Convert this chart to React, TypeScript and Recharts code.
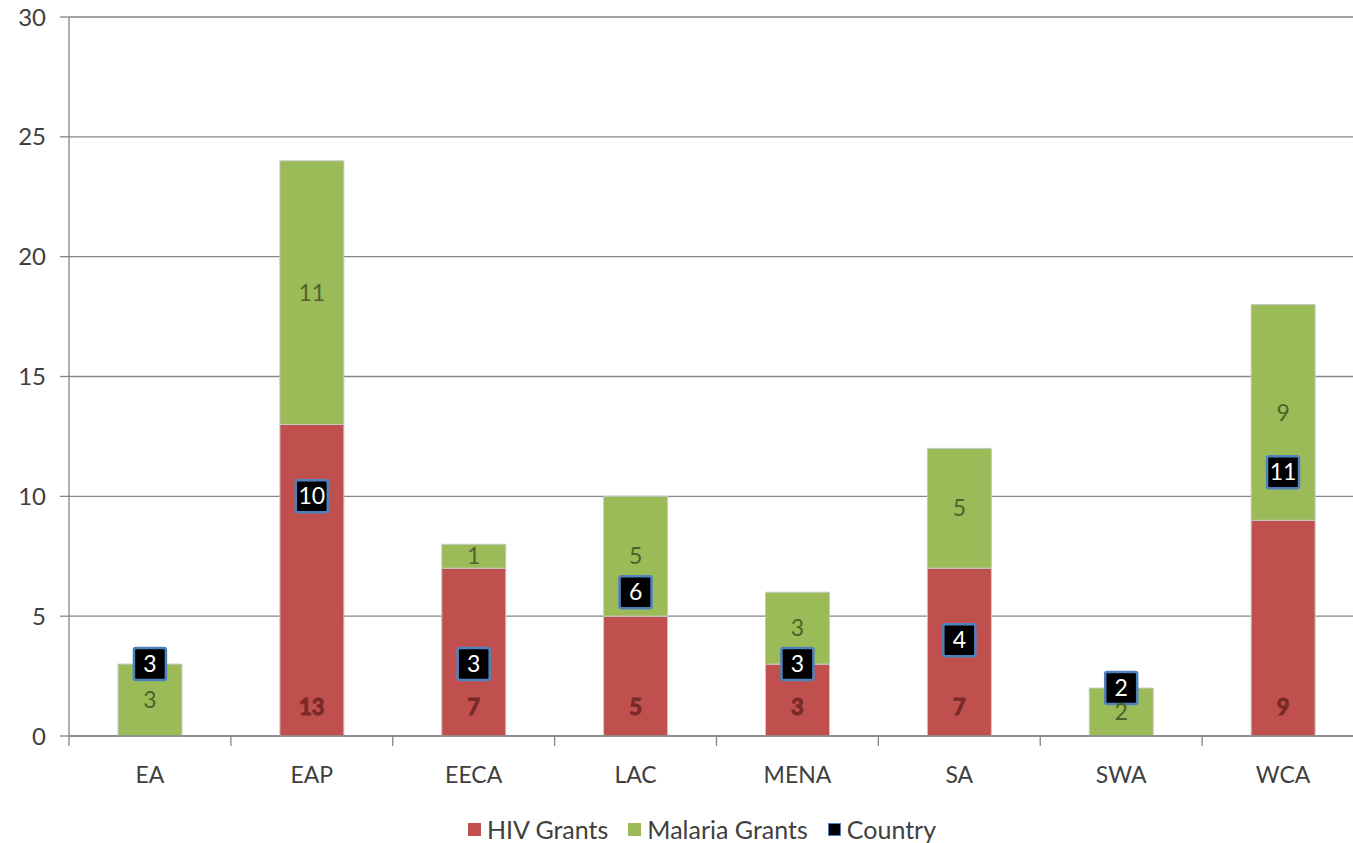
import React from "react";
import { Bar, CartesianGrid, ComposedChart, LabelList, Line, XAxis, YAxis } from "recharts";

const regions = ["EA", "EAP", "EECA", "LAC", "MENA", "SA", "SWA", "WCA"];
const hivGrants = [0, 13, 7, 5, 3, 7, 0, 9];
const malariaGrants = [3, 11, 1, 5, 3, 5, 2, 9];
const countries = [3, 10, 3, 6, 3, 4, 2, 11];
const yTicks = [0, 5, 10, 15, 20, 25, 30];

const data = regions.map((r, i) => ({
    region: r,
    hiv: hivGrants[i],
    malaria: malariaGrants[i],
    country: countries[i],
}));

const FONT = "Lato, 'Open Sans', sans-serif";
const AXIS = "#868686";
const RED = "#c0504d";
const GREEN = "#9bbb59";

const hideZero = (v: any) => (v === 0 ? "" : v);

// category label plus the Excel-style tick mark on the boundary between categories
const RegionTick = (props: any) => {
    const { x, y, payload, width, visibleTicksCount, index } = props;
    const band = width / visibleTicksCount;
    const axisY = y - 10;
    return (
        <g>
            <line x1={x + band / 2} x2={x + band / 2} y1={axisY} y2={axisY + 10} stroke={AXIS} strokeWidth={1.3} />
            {index === 0 && <line x1={x - band / 2} x2={x - band / 2} y1={axisY} y2={axisY + 10} stroke={AXIS} strokeWidth={1.3} />}
            <text x={x} y={axisY + 47} textAnchor="middle" fill="#404040" fontSize={23} fontFamily={FONT}>
                {payload.value}
            </text>
        </g>
    );
};

const HivLabel = (props: any) => {
    const { x, y, width, height, value } = props;
    if (!value) return null;
    return (
        <text
            x={x + width / 2}
            y={y + height - 21}
            textAnchor="middle"
            fill="#7a2a28"
            stroke="#7a2a28"
            strokeWidth={1}
            fontSize={22}
            fontWeight="bold"
            fontFamily={FONT}
        >
            {value}
        </text>
    );
};

const CountryDot = (props: any) => {
    const { cx, cy, value, index } = props;
    if (cx == null || cy == null) return null;
    return (
        <g key={`c-${index}`}>
            <rect x={cx - 16} y={cy - 16} width={32} height={32} rx={2} fill="#000" stroke="#4f81bd" strokeWidth={2.5} />
            <text x={cx} y={cy + 8} textAnchor="middle" fill="#fff" fontSize={23} fontFamily={FONT}>
                {value}
            </text>
        </g>
    );
};

const legendItems = [
    { name: "HIV Grants", color: RED, border: RED },
    { name: "Malaria Grants", color: GREEN, border: GREEN },
    { name: "Country", color: "#000", border: "#4f81bd" },
];

export default function App() {
    return (
        <div style={{ position: "fixed", left: 0, top: 0, width: 1353, height: 843, overflow: "hidden", background: "#fff" }}>
            <ComposedChart
                width={1370}
                height={843}
                data={data}
                margin={{ top: 17, right: 6, left: 0, bottom: 47 }}
                barCategoryGap={0}
            >
                <CartesianGrid vertical={false} stroke={AXIS} strokeWidth={1.3} />
                <XAxis
                    dataKey="region"
                    height={60}
                    tickLine={{ stroke: "none" }}
                    tickSize={10}
                    tickMargin={0}
                    axisLine={{ stroke: AXIS, strokeWidth: 1.3 }}
                    tick={<RegionTick />}
                    interval={0}
                />
                <YAxis
                    width={69}
                    domain={[0, 30]}
                    ticks={yTicks}
                    interval={0}
                    axisLine={{ stroke: AXIS, strokeWidth: 1.3 }}
                    tickLine={{ stroke: AXIS, strokeWidth: 1.3 }}
                    tickSize={9}
                    tickMargin={14}
                    tick={{ fill: "#404040", fontSize: 24, fontFamily: FONT }}
                />
                <Bar dataKey="hiv" name="HIV Grants" stackId="g" fill={RED} stroke="#c8c8c8" strokeWidth={1} barSize={64} isAnimationActive={false}>
                    <LabelList dataKey="hiv" content={<HivLabel />} />
                </Bar>
                <Bar dataKey="malaria" name="Malaria Grants" stackId="g" fill={GREEN} stroke="#c8c8c8" strokeWidth={1} barSize={64} isAnimationActive={false}>
                    <LabelList dataKey="malaria" position="center" formatter={hideZero} fill="#4f6228" fontSize={23} fontFamily={FONT} />
                </Bar>
                <Line
                    dataKey="country"
                    name="Country"
                    stroke="none"
                    dot={<CountryDot />}
                    activeDot={false}
                    isAnimationActive={false}
                />
            </ComposedChart>
            <div
                style={{
                    position: "absolute",
                    left: 0,
                    width: 1404,
                    top: 814,
                    display: "flex",
                    justifyContent: "center",
                    alignItems: "center",
                    fontFamily: FONT,
                    fontSize: 25,
                    color: "#404040",
                }}
            >
                {legendItems.map((it) => (
                    <div key={it.name} style={{ display: "flex", alignItems: "center", margin: "0 10px" }}>
                        <span style={{ display: "inline-block", width: 11, height: 11, background: it.color, border: `1px solid ${it.border}`, marginRight: 6 }} />
                        <span>{it.name}</span>
                    </div>
                ))}
            </div>
        </div>
    );
}
